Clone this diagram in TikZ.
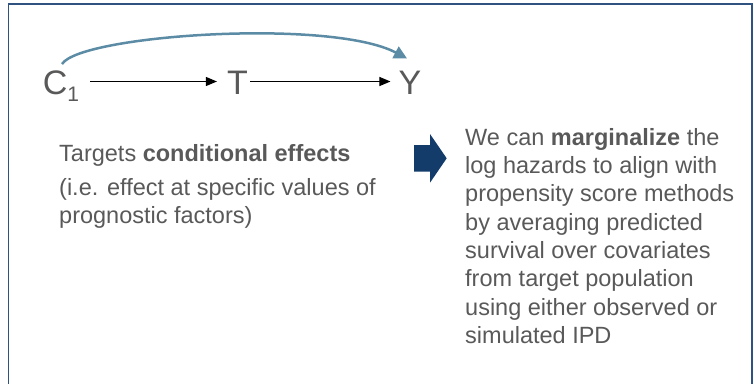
\documentclass[tikz,border=0pt]{standalone}
\usepackage{fontspec}
\setmainfont{Liberation Sans}
\usetikzlibrary{arrows.meta}
\definecolor{txtgray}{HTML}{595959}
\definecolor{framecol}{HTML}{2F5281}
\definecolor{curvecol}{HTML}{5B8BA5}
\definecolor{navy}{HTML}{133C6B}
\begin{document}
\begin{tikzpicture}[x=1pt,y=-1pt,
  dagtxt/.style={inner sep=0pt,anchor=base,text=txtgray,font=\fontsize{34}{34}\selectfont},
  bodytxt/.style={inner sep=0pt,anchor=base west,text=txtgray,align=left,font=\fontsize{23.5}{28.3}\selectfont},
  dagarrow/.style={line width=1pt,black,-{Triangle[length=11pt,width=9pt]}},
  curvearrow/.style={line width=2.5pt,curvecol,-{Triangle[length=13pt,width=13pt]}}]
\useasboundingbox (0,0) rectangle (754,383);
% frame
\draw[framecol,line width=1.6pt] (8.3,390) -- (8.3,3.8) -- (751.7,3.8) -- (751.7,390);
% DAG
\node[dagtxt] (c) at (61,94) {C\raisebox{-7pt}{\fontsize{21}{21}\selectfont 1}};
\node[dagtxt] (t) at (237.5,94) {T};
\node[dagtxt] (y) at (410,94) {Y};
\draw[dagarrow] ([xshift=11pt,yshift=12.5pt]c.base east) -- ([xshift=-10pt,yshift=12.5pt]t.base west);
\draw[dagarrow] ([xshift=2pt,yshift=12.5pt]t.base east) -- ([xshift=-8pt,yshift=12.5pt]y.base west);
\coordinate (cs) at ([xshift=1pt,yshift=6pt]c.north);
\coordinate (ye) at ([xshift=-3pt,yshift=12pt]y.north);
\draw[curvearrow] (cs) .. controls (80,35) and (330,18) .. (ye);
% left text
\node[bodytxt] (l1) at (59,161) {Targets \textbf{conditional effects}};
\node[bodytxt] (l2) at (59,223.8) {(i.e. effect at specific values of\\prognostic factors)};
% block arrow
\fill[navy] (414,145) -- (430,145) -- (430,134) -- (446.7,158.3) -- (430,182.7) -- (430,171.7) -- (414,171.7) -- cycle;
% right text
\node[bodytxt] (r) at (465,343.3) {We can \textbf{marginalize} the\\log hazards to align with\\propensity score methods\\by averaging predicted\\survival over covariates\\from target population\\using either observed or\\simulated IPD};
\end{tikzpicture}
\end{document}
